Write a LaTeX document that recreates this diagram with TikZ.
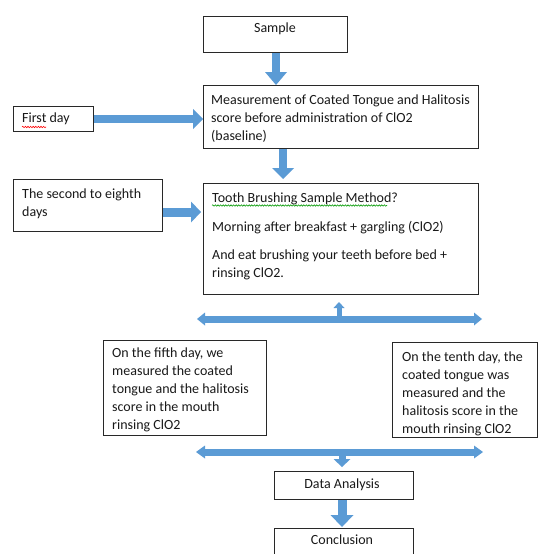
\documentclass[tikz,border=0pt]{standalone}
\usepackage{fontspec}
\setmainfont{Carlito}
\usetikzlibrary{arrows.meta,decorations.pathmorphing}
\definecolor{arrblue}{RGB}{91,155,213}
\definecolor{boxline}{RGB}{40,40,40}
\definecolor{txtcol}{RGB}{25,25,25}
\begin{document}
\begin{tikzpicture}[x=1pt,y=-1pt,
  box/.style={draw=boxline,line width=1pt,fill=white,rectangle,inner sep=0pt,anchor=north west},
  txt/.style={inner sep=0pt,anchor=north west,align=left,text=txtcol,font=\fontsize{14}{18}\selectfont},
  ctxt/.style={inner sep=0pt,anchor=center,text=txtcol,font=\fontsize{14}{18}\selectfont},
  blk/.style={arrblue,line width=#1},
  wavy/.style={line width=0.6pt,decorate,decoration={snake,amplitude=0.7pt,segment length=2.6pt}}
]
\clip (0,0) rectangle (539,554);
\fill[white] (0,0) rectangle (539,554);

% boxes
\node[box,minimum width=144pt,minimum height=36pt] (sample) at (203,16) {};
\node[box,minimum width=275pt,minimum height=63pt] (meas) at (203,85) {};
\node[box,minimum width=80pt,minimum height=25pt] (first) at (13,106) {};
\node[box,minimum width=149pt,minimum height=52pt] (second) at (13,179) {};
\node[box,minimum width=275pt,minimum height=111pt] (tooth) at (203,183) {};
\node[box,minimum width=163pt,minimum height=95pt] (fifth) at (103,340) {};
\node[box,minimum width=145pt,minimum height=95pt] (tenth) at (392,342) {};
\node[box,minimum width=139pt,minimum height=28pt] (data) at (274,471) {};
\node[box,minimum width=139pt,minimum height=40pt] (concl) at (274,528) {};

% texts
\node[ctxt] (sampleT) at (275,29) {Sample};
\node[txt] (measT) at (211,94.5) {Measurement of Coated Tongue and Halitosis\\score before administration of ClO2\\(baseline)};
\node[txt] (firstT) at (22,113) {First day};
\node[txt] (secondT) at (22,188.5) {The second to eighth\\days};
\node[txt] (toothT) at (212,192.5) {Tooth Brushing Sample Method?\\[11pt]Morning after breakfast + gargling (ClO2)\\[10pt]And eat brushing your teeth before bed +\\rinsing ClO2.};
\node[txt] (fifthT) at (112,347.5) {On the fifth day, we\\measured the coated\\tongue and the halitosis\\score in the mouth\\rinsing ClO2};
\node[txt] (tenthT) at (402,352) {On the tenth day, the\\coated tongue was\\measured and the\\halitosis score in the\\mouth rinsing ClO2};
\node[ctxt] (dataT) at (342,485) {Data Analysis};
\node[ctxt] (conclT) at (342,540) {Conclusion};

% spell-check marks
\draw[wavy,red] (22,127) -- (46,127);
\draw[wavy,green!60!black] (212,205.5) -- (387,205.5);

% helper coordinates
\coordinate (c1) at (276,0);
\coordinate (c3) at (283,0);
\coordinate (c4) at (0,212);
\coordinate (c5) at (342,0);
\coordinate (tl) at (197,319);
\coordinate (tr) at (482,319);
\coordinate (tu0) at (339,319);
\coordinate (tu1) at (339,302);
\coordinate (bl) at (196,452);
\coordinate (br) at (483,452);
\coordinate (bd0) at (342,452);
\coordinate (bd1) at (342,467);

% arrows
\draw[blk=8pt,-{Triangle[width=22pt,length=13pt,line width=0pt]}] (sample.south -| c1) -- (meas.north -| c1);
\draw[blk=8pt,-{Triangle[width=20pt,length=10pt,line width=0pt]}] (first.east) -- (first.east -| meas.west);
\draw[blk=8pt,-{Triangle[width=22pt,length=11pt,line width=0pt]},shorten >=4pt] (meas.south -| c3) -- (tooth.north -| c3);
\draw[blk=9pt,-{Triangle[width=21pt,length=10pt,line width=0pt]},shorten >=2pt] (second.east |- c4) -- (tooth.west |- c4);
\draw[blk=7pt,{Triangle[width=13pt,length=8pt,line width=0pt]}-{Triangle[width=13pt,length=8pt,line width=0pt]}] (tl) -- (tr);
\draw[blk=5pt,-{Triangle[width=11pt,length=6pt,line width=0pt]}] (tu0) -- (tu1);
\draw[blk=7pt,{Triangle[width=13pt,length=9pt,line width=0pt]}-{Triangle[width=13pt,length=9pt,line width=0pt]}] (bl) -- (br);
\draw[blk=7pt,-{Triangle[width=17pt,length=8pt,line width=0pt]}] (bd0) -- (bd1);
\draw[blk=9pt,-{Triangle[width=23pt,length=12pt,line width=0pt]},shorten >=1pt] (data.south -| c5) -- (concl.north -| c5);
\end{tikzpicture}
\end{document}
